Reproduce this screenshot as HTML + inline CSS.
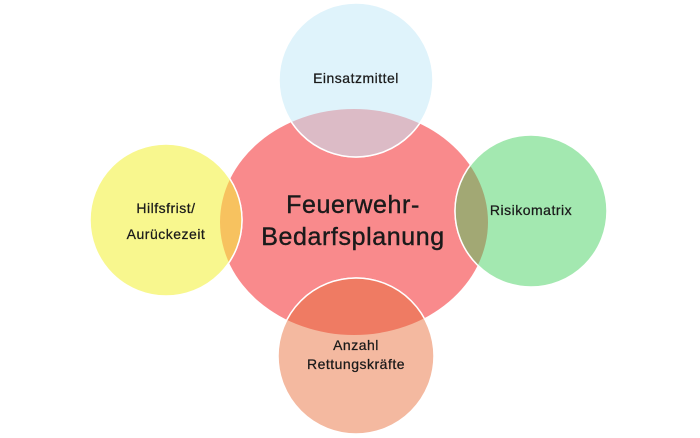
<!DOCTYPE html>
<html><head><meta charset="utf-8"><style>
html,body{margin:0;padding:0;background:#fff;width:700px;height:438px;overflow:hidden}
text{font-family:"Liberation Sans",sans-serif;fill:#1a1a1a;text-anchor:middle;stroke:#1a1a1a;stroke-width:0.25}
.s{font-size:14px;letter-spacing:0.5px}
.c{font-size:25px;letter-spacing:0.6px;stroke-width:0.4}
</style></head><body>
<svg width="700" height="438" viewBox="0 0 700 438" xmlns="http://www.w3.org/2000/svg">
<defs>
<clipPath id="ce"><ellipse cx="354" cy="222" rx="134" ry="113"/></clipPath>
</defs>
<ellipse cx="354" cy="222" rx="134" ry="113" fill="#f98a8c"/>
<g stroke="#ffffff" stroke-width="1.5">
<circle cx="356" cy="80" r="77" fill="#dff3fb"/>
<circle cx="166" cy="220" r="76" fill="#f8f78e"/>
<circle cx="531" cy="211" r="76" fill="#a3e8b0"/>
<circle cx="356" cy="356" r="78" fill="#f4b9a0"/>
</g>
<g clip-path="url(#ce)" stroke="#ffffff" stroke-width="1.5">
<circle cx="356" cy="80" r="77" fill="#dcbbc6"/>
<circle cx="166" cy="220" r="76" fill="#f7c25f"/>
<circle cx="531" cy="211" r="76" fill="#a2a874"/>
<circle cx="356" cy="356" r="78" fill="#ef7b63"/>
</g>
<text class="s" x="356" y="83">Einsatzmittel</text>
<text class="s" x="166" y="213">Hilfsfrist/</text>
<text class="s" x="166" y="239">Aurückezeit</text>
<text class="s" x="531" y="215">Risikomatrix</text>
<text class="s" x="356" y="350">Anzahl</text>
<text class="s" x="356" y="369">Rettungskräfte</text>
<text class="c" x="353" y="213">Feuerwehr-</text>
<text class="c" x="353" y="245">Bedarfsplanung</text>
</svg>
</body></html>
